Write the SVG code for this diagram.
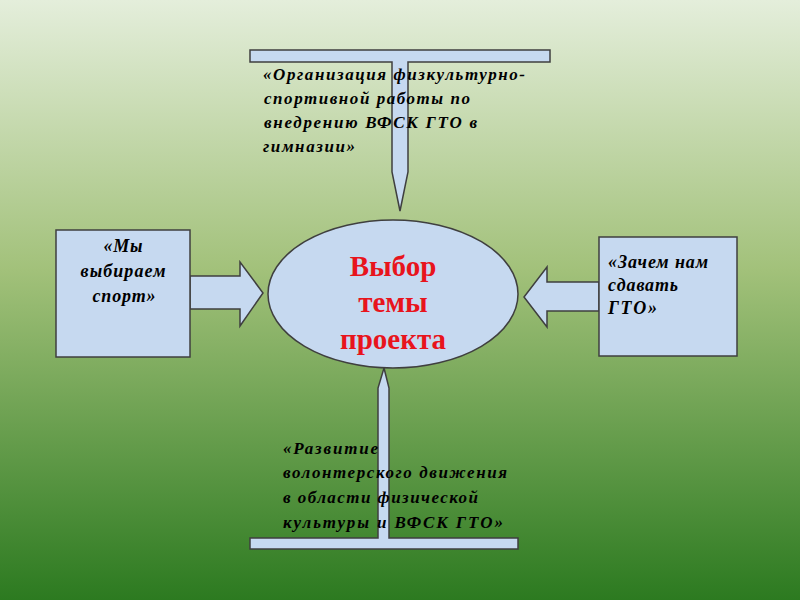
<svg xmlns="http://www.w3.org/2000/svg" width="800" height="600" viewBox="0 0 800 600">
  <defs>
    <linearGradient id="bg" x1="0" y1="0" x2="0" y2="1">
      <stop offset="0" stop-color="#e4eedb"/>
      <stop offset="0.45" stop-color="#a2c17a"/>
      <stop offset="1" stop-color="#2c7a20"/>
    </linearGradient>
  </defs>
  <style>
    .shape { fill: #c6d9f0; stroke: #3f3f3f; stroke-width: 1.5; }
    .lbl { font-family: "Liberation Serif", "DejaVu Serif", serif; font-weight: bold; font-style: italic; font-size: 17px; fill: #000; }
    .big { font-size: 18px; }
    .center { font-family: "Liberation Serif", "DejaVu Serif", serif; font-weight: bold; font-size: 29px; fill: #e8141c; text-anchor: middle; }
  </style>
  <rect x="0" y="0" width="800" height="600" fill="url(#bg)"/>

  <g id="connectors">
    <path class="shape" d="M250,50 L550,50 L550,62 L408,62 L408,172 L400,211 L392,172 L392,62 L250,62 Z"/>
    <path class="shape" d="M190,276 L240,276 L240,262 L263,293 L240,326 L240,309 L190,309 Z"/>
    <path class="shape" d="M599,282 L547,282 L547,267 L524,297 L547,327 L547,311 L599,311 Z"/>
    <path class="shape" d="M384,368 L389,388 L389,538 L518,538 L518,549 L250,549 L250,538 L378,538 L378,388 Z"/>
  </g>

  <g id="node-center">
    <ellipse class="shape" cx="393" cy="294" rx="125" ry="74"/>
    <text class="center" x="393" y="276">Выбор</text>
    <text class="center" x="393" y="312">темы</text>
    <text class="center" x="393" y="349">проекта</text>
  </g>

  <g id="node-left">
    <rect class="shape" x="56" y="230" width="134" height="127"/>
    <text class="lbl big" text-anchor="middle" x="123" y="252" textLength="39" lengthAdjust="spacing">«Мы</text>
    <text class="lbl big" text-anchor="middle" x="123" y="277" textLength="85" lengthAdjust="spacing">выбираем</text>
    <text class="lbl big" text-anchor="middle" x="124" y="302" textLength="63" lengthAdjust="spacing">спорт»</text>
  </g>

  <g id="node-right">
    <rect class="shape" x="599" y="237" width="138" height="119"/>
    <text class="lbl big" x="608" y="268" textLength="100" lengthAdjust="spacing">«Зачем нам</text>
    <text class="lbl big" x="608" y="291" textLength="70" lengthAdjust="spacing">сдавать</text>
    <text class="lbl big" x="608" y="314" textLength="49" lengthAdjust="spacing">ГТО»</text>
  </g>

  <g id="node-top">
    <text class="lbl" x="263" y="80" textLength="262" lengthAdjust="spacing">«Организация физкультурно-</text>
    <text class="lbl" x="264" y="104" textLength="206" lengthAdjust="spacing">спортивной работы по</text>
    <text class="lbl" x="264" y="128" textLength="213" lengthAdjust="spacing">внедрению ВФСК ГТО в</text>
    <text class="lbl" x="263" y="152" textLength="92" lengthAdjust="spacing">гимназии»</text>
  </g>

  <g id="node-bottom">
    <text class="lbl" x="283" y="454" textLength="95" lengthAdjust="spacing">«Развитие</text>
    <text class="lbl" x="283" y="478" textLength="224" lengthAdjust="spacing">волонтерского движения</text>
    <text class="lbl" x="283" y="503" textLength="195" lengthAdjust="spacing">в области физической</text>
    <text class="lbl" x="283" y="528" textLength="220" lengthAdjust="spacing">культуры и ВФСК  ГТО»</text>
  </g>
</svg>
